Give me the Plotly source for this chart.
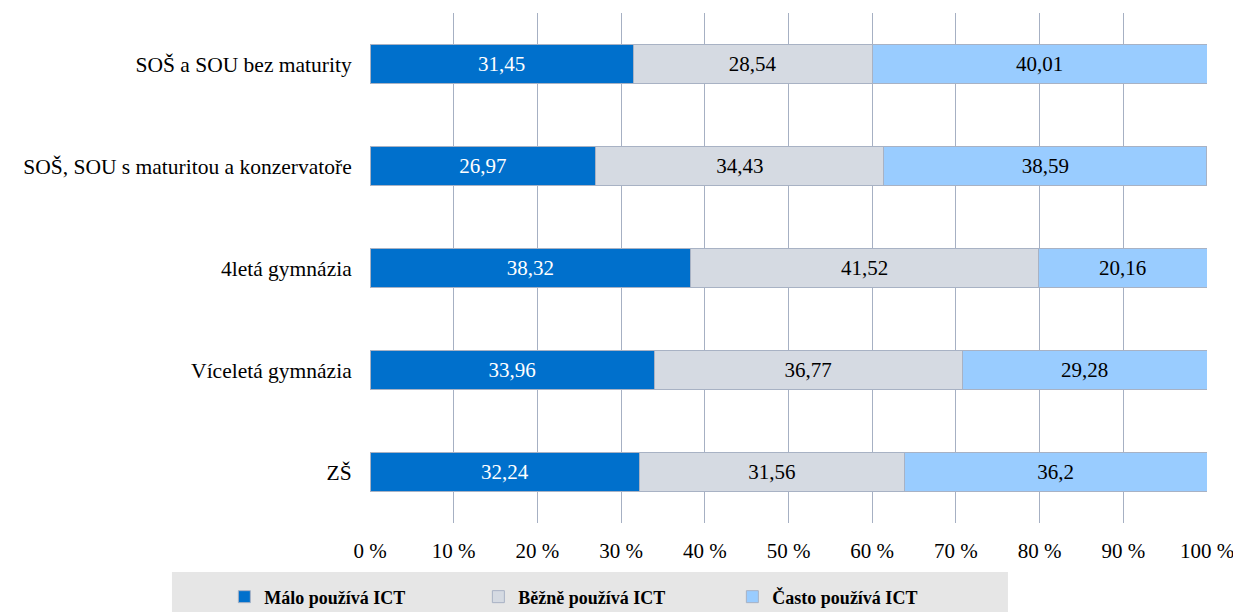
import plotly.graph_objects as go

categories = ["ZŠ", "Víceletá gymnázia", "4letá gymnázia",
              "SOŠ, SOU s maturitou a konzervatoře", "SOŠ a SOU bez maturity"]
malo = [32.24, 33.96, 38.32, 26.97, 31.45]
bezne = [31.56, 36.77, 41.52, 34.43, 28.54]
casto = [36.2, 29.28, 20.16, 38.59, 40.01]
series_names = ["Málo používá ICT", "Běžně používá ICT", "Často používá ICT"]
colors = ["#0070CC", "#D5DAE2", "#99CCFF"]
text_colors = ["white", "black", "black"]
x_ticks = [0, 10, 20, 30, 40, 50, 60, 70, 80, 90, 100]

SERIF = "Liberation Serif, Times New Roman, serif"

def fmt(v):
    return ("%g" % v).replace(".", ",")

fig = go.Figure()
for name, vals, col, tcol in zip(series_names, [malo, bezne, casto], colors, text_colors):
    fig.add_trace(go.Bar(
        y=categories, x=vals, name=name, orientation="h",
        marker=dict(color=col, line=dict(color="#A8B2C4", width=1)),
        text=[fmt(v) for v in vals], textposition="inside",
        insidetextanchor="middle", textangle=0,
        textfont=dict(color=tcol, size=21, family=SERIF),
        hoverinfo="skip",
    ))

fig.add_shape(type="rect", xref="paper", yref="paper",
              x0=-0.2366, x1=0.7622, y0=-0.1745, y1=-0.096,
              fillcolor="#E6E6E6", line=dict(width=0), layer="below")

fig.update_layout(
    barmode="stack", bargap=0.61,
    width=1233, height=604,
    margin=dict(l=362, r=34, t=5, b=89, autoexpand=False),
    plot_bgcolor="white", paper_bgcolor="white",
    font=dict(family=SERIF, size=21, color="black"),
    showlegend=True,
    legend=dict(orientation="h", x=-0.174, xanchor="left", y=-0.145, yanchor="middle",
                bgcolor="rgba(0,0,0,0)", entrywidth=209, entrywidthmode="pixels",
                font=dict(family=SERIF, size=18, color="black", weight="bold"),
                traceorder="normal", itemwidth=30),
    xaxis=dict(range=[0, 100], tickvals=x_ticks, ticktext=[f"{t} %" for t in x_ticks],
               showgrid=True, gridcolor="#A6B0C3", gridwidth=1, zeroline=False,
               showline=False, ticks="outside", ticklen=0, ticklabelstandoff=9,
               tickfont=dict(size=21, family=SERIF)),
    yaxis=dict(showgrid=False, zeroline=False, showline=False, ticks="outside",
               ticklen=0, ticklabelstandoff=13, tickfont=dict(size=21.5, family=SERIF)),
)

fig.write_html("out.html")
